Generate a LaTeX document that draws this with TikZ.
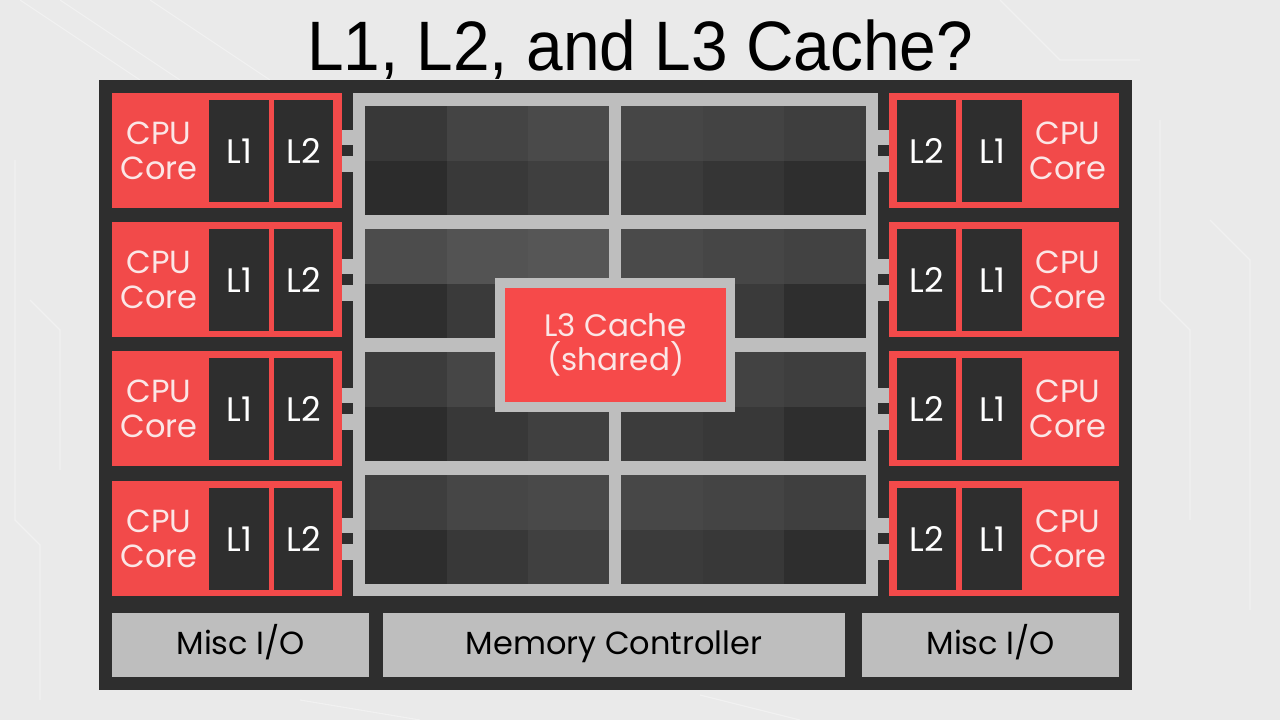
\documentclass[tikz,border=0pt]{standalone}
\usepackage{fontspec}
\setmainfont{Poppins}
\newfontfamily\titlef[FakeStretch=0.94]{Liberation Sans}
\definecolor{bgc}{HTML}{EAEAEA}
\definecolor{chip}{HTML}{2E2E2E}
\definecolor{lgray}{HTML}{BEBEBE}
\definecolor{redc}{HTML}{F24A4A}
\definecolor{l3red}{HTML}{F64A4A}
\definecolor{txtw}{HTML}{FBE6E6}
\definecolor{cdark}{HTML}{2E2E2E}
\tikzset{
  redbox/.style={fill=redc, draw=none},
  cachebox/.style={fill=cdark, draw=none, text=white, font=\fontsize{34}{34}\selectfont, inner sep=0pt},
  corelabel/.style={text=txtw, font=\fontsize{32}{35}\selectfont, align=center, inner sep=0pt},
  iobox/.style={fill=lgray, draw=none, text=black, font=\fontsize{32}{32}\selectfont, inner sep=0pt, text height=23pt, text depth=5pt},
  stub/.style={fill=lgray, draw=none},
  trace/.style={white, line width=1.1pt, opacity=0.35},
}
\begin{document}
\begin{tikzpicture}[x=1pt,y=-1pt]
\useasboundingbox (0,0) rectangle (1280,720);
\fill[bgc] (0,0) rectangle (1280,720);
% faint background traces
\draw[trace] (20,0) -- (140,80);
\draw[trace] (60,0) -- (180,80);
\draw[trace] (150,0) -- (270,80);
\draw[trace] (15,160) -- (15,520) -- (40,545) -- (40,700);
\draw[trace] (30,300) -- (60,330) -- (60,470);
\draw[trace] (1160,120) -- (1160,300) -- (1190,330) -- (1190,520);
\draw[trace] (1210,220) -- (1250,260) -- (1250,610);
\draw[trace] (1000,0) -- (1060,60) -- (1140,60);
\draw[trace] (300,700) -- (420,720);
\draw[trace] (700,695) -- (800,720);
% title
\node[anchor=base, font=\titlef\fontsize{70}{70}\selectfont, inner sep=0pt] (title) at (640,70) {L1, L2, and L3 Cache?};
% chip body
\fill[chip] (99,80) rectangle (1132,690);
% grid frame
\fill[lgray] (353,93) rectangle (878,596);
\def\cellL#1#2#3#4#5#6#7#8#9{%
  \fill[fill={rgb,255:red,#4;green,#4;blue,#4}] (365,#1) rectangle (447,#2);
  \fill[fill={rgb,255:red,#5;green,#5;blue,#5}] (447,#1) rectangle (528,#2);
  \fill[fill={rgb,255:red,#6;green,#6;blue,#6}] (528,#1) rectangle (609,#2);
  \fill[fill={rgb,255:red,#7;green,#7;blue,#7}] (365,#2) rectangle (447,#3);
  \fill[fill={rgb,255:red,#8;green,#8;blue,#8}] (447,#2) rectangle (528,#3);
  \fill[fill={rgb,255:red,#9;green,#9;blue,#9}] (528,#2) rectangle (609,#3);
}
\def\cellR#1#2#3#4#5#6#7#8#9{%
  \fill[fill={rgb,255:red,#4;green,#4;blue,#4}] (621,#1) rectangle (703,#2);
  \fill[fill={rgb,255:red,#5;green,#5;blue,#5}] (703,#1) rectangle (784,#2);
  \fill[fill={rgb,255:red,#6;green,#6;blue,#6}] (784,#1) rectangle (866,#2);
  \fill[fill={rgb,255:red,#7;green,#7;blue,#7}] (621,#2) rectangle (703,#3);
  \fill[fill={rgb,255:red,#8;green,#8;blue,#8}] (703,#2) rectangle (784,#3);
  \fill[fill={rgb,255:red,#9;green,#9;blue,#9}] (784,#2) rectangle (866,#3);
}
\cellL{106}{161}{215}{56}{68}{74}{44}{57}{63}
\cellR{106}{161}{215}{70}{67}{62}{59}{53}{46}
\cellL{229}{284}{338}{76}{83}{86}{46}{58}{62}
\cellR{229}{284}{338}{74}{70}{66}{60}{58}{46}
\cellL{352}{407}{461}{60}{70}{72}{44}{56}{64}
\cellR{352}{407}{461}{68}{66}{62}{60}{56}{46}
\cellL{475}{530}{584}{62}{70}{73}{45}{56}{64}
\cellR{475}{530}{584}{71}{68}{63}{59}{56}{46}
% L3 cache
\fill[lgray] (495,278) rectangle (735,412);
\node[fill=l3red, minimum width=221pt, minimum height=114pt, inner sep=0pt, anchor=north west,
      text=txtw, font=\fontsize{31}{34}\selectfont, align=center] (l3) at (505,288) {L3 Cache\\(shared)};
% cores
\foreach \y [count=\i] in {93,222,351,481}{
  % left
  \node[redbox, minimum width=230pt, minimum height=115pt, inner sep=0pt, anchor=north west] (lc\i) at (112,\y) {};
  \node[cachebox, minimum width=60pt, minimum height=102pt, anchor=north west] (ll1\i) at (209,\y+7) {L1};
  \node[cachebox, minimum width=59pt, minimum height=102pt, anchor=north west] (ll2\i) at (274,\y+7) {L2};
  \node[corelabel] (lt\i) at (159,\y+58) {CPU\\Core};
  \fill[stub] (lc\i.east |- 0,\y+37) rectangle (353,\y+52);
  \fill[stub] (lc\i.east |- 0,\y+63) rectangle (353,\y+79);
  % right
  \node[redbox, minimum width=230pt, minimum height=115pt, inner sep=0pt, anchor=north west] (rc\i) at (889,\y) {};
  \node[cachebox, minimum width=59pt, minimum height=102pt, anchor=north west] (rl2\i) at (897,\y+7) {L2};
  \node[cachebox, minimum width=60pt, minimum height=102pt, anchor=north west] (rl1\i) at (962,\y+7) {L1};
  \node[corelabel] (rt\i) at (1068,\y+58) {CPU\\Core};
  \fill[stub] (878,\y+37) rectangle (rc\i.west |- 0,\y+52);
  \fill[stub] (878,\y+63) rectangle (rc\i.west |- 0,\y+79);
}
% bottom row
\node[iobox, minimum width=257pt, minimum height=64pt, anchor=north west] (io1) at (112,613) {Misc I/O};
\node[iobox, minimum width=462pt, minimum height=64pt, anchor=north west] (mem) at (383,613) {Memory Controller};
\node[iobox, minimum width=257pt, minimum height=64pt, anchor=north west] (io2) at (862,613) {Misc I/O};
\end{tikzpicture}
\end{document}
